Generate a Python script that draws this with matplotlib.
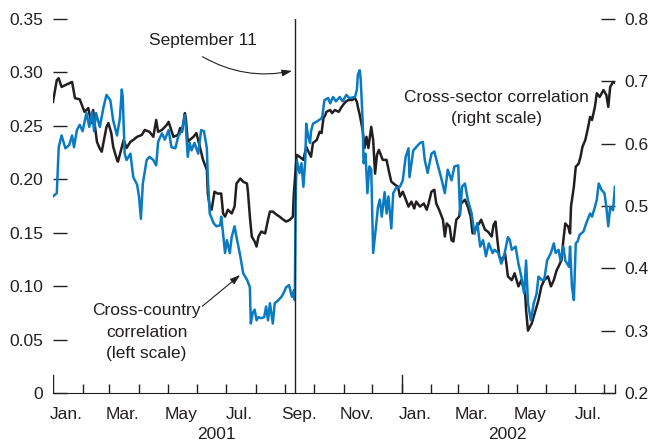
import numpy as np
import pandas as pd
import matplotlib
matplotlib.use('Agg')
import matplotlib.pyplot as plt
import matplotlib.dates as mdates
from matplotlib.transforms import blended_transform_factory

START = pd.Timestamp('2001-01-01')

# cross-sector correlation (right scale); days counted from 1 Jan 2001
sector_day = [0, 4, 6, 9, 13, 20, 23, 28, 33, 37, 40, 42, 44, 46, 49, 51, 56, 58,
              61, 63, 67, 68, 74, 77, 81, 84, 88, 93, 96, 101, 105, 108, 110, 114,
              119, 121, 126, 131, 133, 135, 138, 139, 141, 143, 147, 150, 154, 157,
              161, 162, 164, 166, 169, 172, 176, 178, 180, 183, 187, 190, 192, 196,
              199, 203, 204, 206, 208, 211, 213, 215, 218, 222, 225, 227, 230, 234,
              237, 241, 244, 248, 251, 252, 255, 258, 262, 265, 268, 270, 272, 276,
              279, 281, 283, 285, 286, 290, 292, 295, 299, 302, 306, 309, 313, 316,
              318, 319, 321, 324, 326, 328, 330, 333, 335, 337, 339, 341, 345, 349,
              352, 354, 358, 361, 363, 366, 372, 375, 378, 380, 384, 388, 391, 393,
              396, 399, 401, 404, 408, 410, 412, 415, 417, 419, 422, 425, 427, 431,
              434, 437, 439, 442, 446, 448, 452, 455, 459, 461, 463, 465, 467, 470,
              473, 476, 480, 483, 487, 490, 494, 495, 497, 501, 504, 508, 511, 514,
              518, 521, 524, 527, 529, 532, 534, 536, 539, 541, 542, 545, 547, 550,
              552, 554, 557, 560, 562, 564, 567, 569, 572, 576, 579, 581, 583, 586,
              589]
sector_val = [0.667, 0.702, 0.705, 0.691, 0.694, 0.699, 0.673, 0.671, 0.651, 0.657,
              0.633, 0.654, 0.627, 0.603, 0.592, 0.587, 0.627, 0.633, 0.617, 0.595,
              0.574, 0.571, 0.606, 0.593, 0.603, 0.606, 0.611, 0.614, 0.622, 0.619,
              0.611, 0.638, 0.619, 0.622, 0.630, 0.635, 0.611, 0.614, 0.625, 0.619,
              0.649, 0.641, 0.603, 0.606, 0.611, 0.617, 0.593, 0.574, 0.558, 0.520,
              0.499, 0.494, 0.523, 0.520, 0.520, 0.488, 0.483, 0.494, 0.488, 0.499,
              0.536, 0.544, 0.539, 0.536, 0.523, 0.483, 0.451, 0.443, 0.435, 0.451,
              0.459, 0.456, 0.478, 0.491, 0.491, 0.486, 0.483, 0.478, 0.475, 0.478,
              0.483, 0.520, 0.582, 0.579, 0.574, 0.595, 0.585, 0.579, 0.601, 0.606,
              0.619, 0.617, 0.641, 0.646, 0.651, 0.654, 0.649, 0.654, 0.651, 0.659,
              0.667, 0.670, 0.670, 0.673, 0.667, 0.659, 0.646, 0.622, 0.593, 0.611,
              0.593, 0.627, 0.606, 0.552, 0.582, 0.590, 0.574, 0.574, 0.552, 0.539,
              0.534, 0.531, 0.515, 0.523, 0.499, 0.507, 0.496, 0.507, 0.499, 0.504,
              0.494, 0.504, 0.523, 0.526, 0.504, 0.494, 0.478, 0.451, 0.472, 0.467,
              0.445, 0.443, 0.478, 0.483, 0.504, 0.510, 0.499, 0.483, 0.456, 0.464,
              0.472, 0.478, 0.462, 0.459, 0.451, 0.470, 0.475, 0.445, 0.419, 0.413,
              0.424, 0.387, 0.381, 0.392, 0.371, 0.381, 0.360, 0.333, 0.300, 0.312,
              0.328, 0.349, 0.371, 0.381, 0.387, 0.371, 0.381, 0.397, 0.403, 0.413,
              0.445, 0.472, 0.467, 0.456, 0.499, 0.531, 0.563, 0.568, 0.579, 0.595,
              0.606, 0.627, 0.643, 0.638, 0.659, 0.681, 0.675, 0.686, 0.678, 0.659,
              0.691, 0.699, 0.697]

# cross-country correlation (left scale)
country_day = [0, 4, 6, 9, 13, 17, 20, 22, 25, 28, 31, 35, 38, 41, 43, 45, 49, 53,
               56, 60, 63, 67, 70, 72, 73, 75, 77, 81, 84, 88, 90, 92, 94, 98, 101,
               105, 108, 110, 114, 117, 121, 124, 128, 131, 135, 138, 139, 141, 143,
               145, 148, 152, 155, 158, 161, 162, 164, 168, 171, 175, 176, 178, 180,
               182, 185, 187, 190, 192, 196, 199, 203, 206, 207, 209, 211, 213, 215,
               218, 221, 223, 225, 227, 230, 232, 236, 239, 241, 244, 247, 250, 252,
               253, 254, 255, 258, 260, 262, 264, 265, 267, 269, 270, 272, 276, 281,
               282, 284, 288, 290, 293, 296, 300, 303, 307, 310, 316, 318, 319, 321,
               322, 324, 325, 327, 329, 331, 333, 335, 338, 340, 342, 344, 347, 349,
               351, 354, 356, 359, 363, 366, 369, 372, 373, 377, 380, 384, 387, 389,
               392, 396, 399, 403, 406, 410, 413, 417, 420, 424, 426, 428, 431, 434,
               438, 441, 444, 447, 450, 453, 456, 460, 462, 466, 469, 472, 476, 478,
               480, 484, 487, 490, 493, 495, 497, 500, 503, 506, 508, 511, 514, 517,
               521, 524, 526, 529, 531, 534, 536, 540, 541, 543, 545, 547, 549, 551,
               555, 558, 562, 564, 567, 569, 571, 574, 577, 579, 581, 583, 586, 588]
country_val = [0.184, 0.187, 0.230, 0.241, 0.229, 0.232, 0.241, 0.230, 0.246, 0.251,
               0.245, 0.262, 0.249, 0.263, 0.245, 0.262, 0.249, 0.268, 0.279, 0.274,
               0.255, 0.241, 0.257, 0.284, 0.277, 0.224, 0.218, 0.224, 0.202, 0.195,
               0.184, 0.163, 0.196, 0.218, 0.221, 0.218, 0.213, 0.235, 0.243, 0.237,
               0.246, 0.230, 0.229, 0.240, 0.246, 0.260, 0.249, 0.221, 0.234, 0.227,
               0.234, 0.224, 0.246, 0.245, 0.229, 0.202, 0.168, 0.159, 0.156, 0.157,
               0.165, 0.149, 0.131, 0.143, 0.131, 0.146, 0.156, 0.146, 0.128, 0.112,
               0.106, 0.099, 0.065, 0.075, 0.078, 0.068, 0.071, 0.070, 0.071, 0.081,
               0.068, 0.084, 0.065, 0.084, 0.087, 0.090, 0.093, 0.099, 0.101, 0.090,
               0.096, 0.087, 0.187, 0.218, 0.206, 0.215, 0.193, 0.218, 0.252, 0.240,
               0.234, 0.245, 0.252, 0.254, 0.257, 0.260, 0.274, 0.276, 0.271, 0.277,
               0.273, 0.277, 0.273, 0.279, 0.276, 0.277, 0.284, 0.298, 0.302, 0.293,
               0.255, 0.215, 0.224, 0.187, 0.212, 0.209, 0.131, 0.156, 0.174, 0.181,
               0.165, 0.188, 0.168, 0.184, 0.154, 0.187, 0.192, 0.193, 0.199, 0.221,
               0.229, 0.202, 0.227, 0.230, 0.234, 0.235, 0.218, 0.206, 0.224, 0.226,
               0.212, 0.202, 0.187, 0.209, 0.199, 0.212, 0.213, 0.167, 0.193, 0.196,
               0.181, 0.168, 0.149, 0.159, 0.137, 0.143, 0.128, 0.140, 0.131, 0.134,
               0.131, 0.121, 0.128, 0.146, 0.143, 0.134, 0.137, 0.121, 0.109, 0.093,
               0.124, 0.084, 0.068, 0.084, 0.093, 0.109, 0.106, 0.106, 0.124, 0.131,
               0.140, 0.131, 0.134, 0.124, 0.137, 0.124, 0.118, 0.137, 0.099, 0.087,
               0.140, 0.142, 0.148, 0.151, 0.159, 0.168, 0.165, 0.174, 0.181, 0.196,
               0.190, 0.187, 0.174, 0.156, 0.174, 0.171, 0.193]

left_ticks = [0, 0.05, 0.10, 0.15, 0.20, 0.25, 0.30, 0.35]
right_ticks = [0.2, 0.3, 0.4, 0.5, 0.6, 0.7, 0.8]
month_names = ['Jan.', 'Mar.', 'May', 'Jul.', 'Sep.', 'Nov.', 'Jan.', 'Mar.', 'May', 'Jul.']
month_starts = ['2001-01', '2001-03', '2001-05', '2001-07', '2001-09', '2001-11',
                '2002-01', '2002-03', '2002-05', '2002-07']
years = ['2001', '2002']

INK = '#231f20'
BLUE = '#0a7bc2'
plt.rcParams['font.family'] = ['Liberation Sans', 'DejaVu Sans']


def to_num(days):
    return mdates.date2num(START + pd.to_timedelta(np.asarray(days), unit='D'))


fig = plt.figure(figsize=(6.5, 4.45), dpi=100)
ax = fig.add_axes([0.0815, 0.1169, 0.8646, 0.8404])
ax2 = ax.twinx()
ax.set_zorder(ax2.get_zorder() + 1)
ax.patch.set_visible(False)

ax2.plot(to_num(sector_day), sector_val, color=INK, lw=1.8)
ax.plot(to_num(country_day), country_val, color=BLUE, lw=1.8)

x0 = mdates.date2num(START)
x1 = mdates.date2num(pd.Timestamp('2002-08-12'))
ax.set_xlim(x0, x1)
ax.set_ylim(0, 0.35)
ax2.set_ylim(0.2, 0.8)

for a in (ax, ax2):
    for s in a.spines.values():
        s.set_visible(False)
ax.spines['bottom'].set_visible(True)
ax.spines['bottom'].set_color(INK)

# y axes: short dashes inside the frame
ax.set_yticks(left_ticks, ['0' if v == 0 else f'{v:.2f}' for v in left_ticks])
ax2.set_yticks(right_ticks, [f'{v:.1f}' for v in right_ticks])
for a in (ax, ax2):
    a.tick_params(axis='y', direction='in', length=10, width=1, pad=7,
                  color=INK, labelcolor=INK, labelsize=12.5)

# x axis: month ticks, labels at mid-month
mids = [mdates.date2num(pd.Timestamp(m + '-15')) for m in month_starts]
ax.set_xticks(mids, month_names)
bounds = list(mdates.date2num(pd.date_range('2001-02-01', '2002-08-01', freq='MS'))) + [x1]
ax.set_xticks(bounds, minor=True)
ax.tick_params(axis='x', which='major', length=0, pad=10, labelsize=12.5, labelcolor=INK)
ax.tick_params(axis='x', which='minor', direction='in', length=6.5, width=1, color=INK)
for y in ['2001-01-01', '2002-01-01']:
    ax.axvline(mdates.date2num(pd.Timestamp(y)), ymin=0, ymax=0.048, color=INK, lw=1)

tr = blended_transform_factory(ax.transData, ax.transAxes)
for yr, pos in zip(years, ['2001-06-21', '2002-04-21']):
    ax.text(mdates.date2num(pd.Timestamp(pos)), -0.112, yr, transform=tr,
            ha='center', va='center', fontsize=12.5, color=INK)

# September 11 marker
sep11 = mdates.date2num(pd.Timestamp('2001-09-11'))
ax.axvline(sep11, color=INK, lw=1.0)
ax.text(to_num(157), 0.330, 'September 11', ha='center', va='center',
        fontsize=12.5, color=INK)
ax.annotate('', xy=(sep11, 0.302), xytext=(to_num(154), 0.316),
            arrowprops=dict(arrowstyle='-|>,head_length=0.6,head_width=0.2',
                            color=INK, lw=0.8, connectionstyle='arc3,rad=0.2'))

ax.text(to_num(98), 0.057, 'Cross-country\ncorrelation\n(left scale)',
        ha='center', va='center', fontsize=12.5, color=INK, linespacing=1.55)
ax.annotate('', xy=(to_num(198), 0.112), xytext=(to_num(154), 0.0795),
            arrowprops=dict(arrowstyle='-|>,head_length=0.6,head_width=0.2',
                            color=INK, lw=0.8))

ax2.text(to_num(464), 0.657, 'Cross-sector correlation\n(right scale)',
         ha='center', va='center', fontsize=12.5, color=INK, linespacing=1.55)

fig.savefig('out.png', dpi=100)
